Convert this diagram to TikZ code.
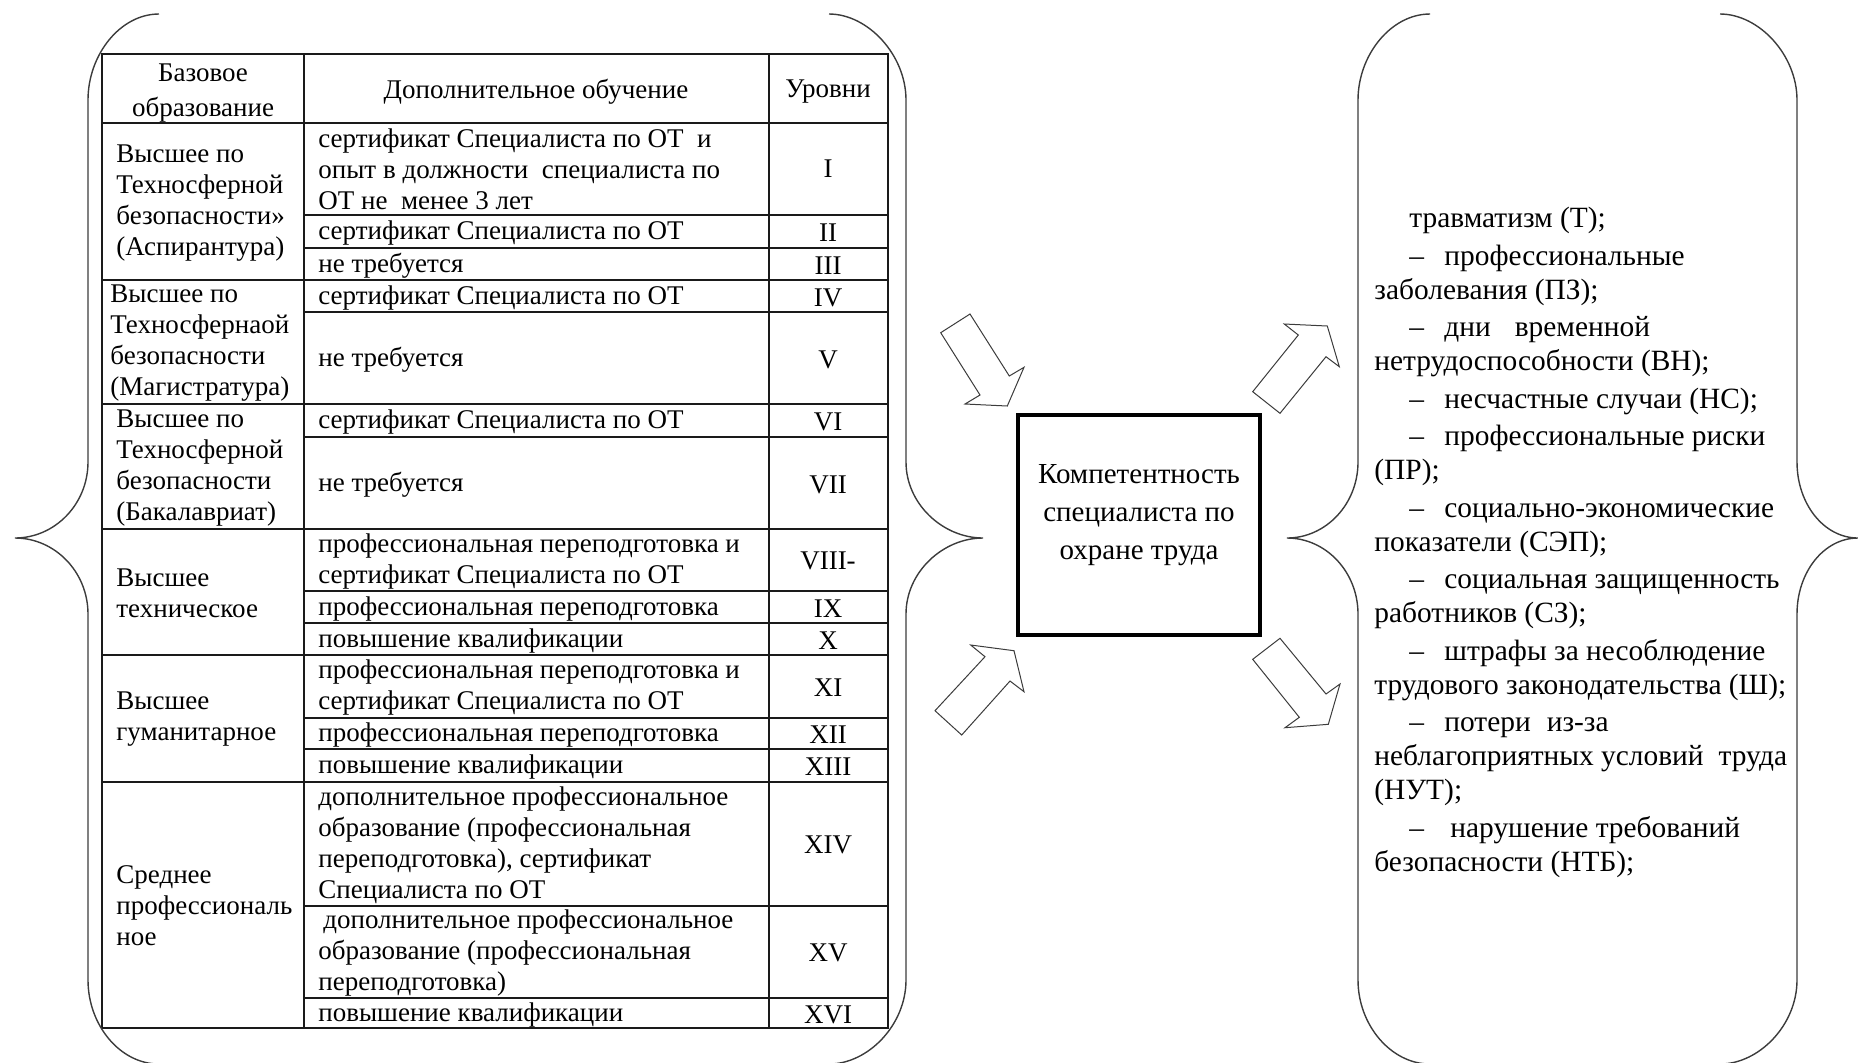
\documentclass[tikz,border=0pt]{standalone}
\usepackage{fontspec}
\setmainfont{Liberation Serif}
\definecolor{ink}{HTML}{000000}
\definecolor{rule}{HTML}{1A1A1A}
\definecolor{curve}{HTML}{3C3C3C}
\definecolor{paper}{HTML}{FFFFFF}
\newcommand{\itemdash}{\hspace*{17.5pt}\makebox[17.5pt][l]{–}}
\tikzset{
  tabletext/.style={
    font=\fontsize{13.5}{15.5}\selectfont,
    text=ink,
    inner sep=0pt,
    align=left,
    anchor=west
  },
  levelcell/.style={
    font=\fontsize{13.5}{15.5}\selectfont,
    text=ink,
    inner sep=0pt,
    align=center
  },
  headcell/.style={levelcell},
  gridline/.style={draw=rule, line width=0.75pt},
  bracket/.style={draw=curve, line width=0.7pt},
  blockarrow/.style={draw=curve, fill=paper, line width=0.5pt, line join=miter},
  corebox/.style={
    draw=ink,
    line width=2pt,
    minimum width=121pt,
    minimum height=110pt,
    inner sep=0pt
  },
  coretext/.style={
    font=\fontsize{14.5}{19}\selectfont,
    text=ink,
    align=center,
    inner sep=0pt
  },
  factlist/.style={
    font=\fontsize{14.7}{17}\selectfont,
    text=ink,
    align=left,
    inner sep=0pt,
    anchor=north west
  }
}

\begin{document}
\begin{tikzpicture}[x=0.5pt,y=-0.5pt]
  \useasboundingbox (0,0) rectangle (1858,1062);

  \draw[gridline] (102,54) rectangle (888,1028);
  \draw[gridline] (304,54) -- (304,1028);
  \draw[gridline] (769,54) -- (769,1028);
  \foreach \yy in {123,280,404,529,655,782}
    \draw[gridline] (102,\yy) -- (888,\yy);
  \foreach \yy in {215,248,312,437,591,623,718,749,906,998}
    \draw[gridline] (304,\yy) -- (888,\yy);

  \node[headcell] (head-base) at (203,93) {Базовое\\[2pt]образование};
  \node[headcell] (head-extra) at (536,92) {Дополнительное обучение};
  \node[headcell] (head-level) at (828,92) {Уровни};

  \node[tabletext] (base-phd) at (116,203) {Высшее по\\Техносферной\\безопасности»\\(Аспирантура)};
  \node[tabletext] (base-msc) at (110,343) {Высшее по\\Техносфернаой\\безопасности\\(Магистратура)};
  \node[tabletext] (base-bsc) at (116,468) {Высшее по\\Техносферной\\безопасности\\(Бакалавриат)};
  \node[tabletext] (base-tech) at (116,593) {Высшее\\техническое};
  \node[tabletext] (base-hum) at (116,719) {Высшее\\гуманитарное};
  \node[tabletext] (base-spo) at (116,906) {Среднее\\профессиональ\\ное};

  \foreach \ymid/\lvl/\txt [count=\i] in {
    169/I/{сертификат Специалиста по ОТ\ \ и\\опыт в должности\ \ специалиста по\\ОТ не\ \ менее 3 лет},
    233/II/{сертификат Специалиста по ОТ},
    265.5/III/{не требуется},
    297.5/IV/{сертификат Специалиста по ОТ},
    359.5/V/{не требуется},
    422/VI/{сертификат Специалиста по ОТ},
    484.5/VII/{не требуется},
    561/VIII-/{профессиональная переподготовка и\\сертификат Специалиста по ОТ},
    608.5/IX/{профессиональная переподготовка},
    640.5/X/{повышение квалификации},
    687.5/XI/{профессиональная переподготовка и\\сертификат Специалиста по ОТ},
    735/XII/{профессиональная переподготовка},
    767/XIII/{повышение квалификации},
    845/XIV/{дополнительное профессиональное\\образование (профессиональная\\переподготовка), сертификат\\Специалиста по ОТ},
    953/XV/{\hspace*{2.5pt}дополнительное профессиональное\\образование (профессиональная\\переподготовка)},
    1014.5/XVI/{повышение квалификации}}
  {
    \node[tabletext] (extra\i) at (318,\ymid) {\txt};
    \node[levelcell] (level\i) at (828,\ymid) {\lvl};
  }

  \draw[bracket] (159,14) .. controls (120,14) and (88,55) .. (88,100) -- (88,462)
    .. controls (88,504) and (55,538) .. (15,538)
    .. controls (55,538) and (88,572) .. (88,614) -- (88,980)
    .. controls (88,1025) and (120,1064) .. (159,1064);
  \draw[bracket] (829,14) .. controls (868,14) and (906,55) .. (906,100) -- (906,462)
    .. controls (906,504) and (943,538) .. (983,538)
    .. controls (943,538) and (906,572) .. (906,614) -- (906,980)
    .. controls (906,1025) and (868,1064) .. (829,1064);
  \draw[bracket] (1430,14) .. controls (1391,14) and (1358,55) .. (1358,100) -- (1358,462)
    .. controls (1358,504) and (1326,538) .. (1287,538)
    .. controls (1326,538) and (1358,572) .. (1358,614) -- (1358,980)
    .. controls (1358,1025) and (1391,1064) .. (1430,1064);
  \draw[bracket] (1720,14) .. controls (1759,14) and (1797,55) .. (1797,100) -- (1797,462)
    .. controls (1797,504) and (1824,538) .. (1858,538)
    .. controls (1824,538) and (1797,572) .. (1797,614) -- (1797,980)
    .. controls (1797,1025) and (1759,1064) .. (1720,1064);

  \draw[blockarrow] (940.7,332.7) -- (970,314) -- (1009.3,376) -- (1024,367.3)
    -- (1007.3,406) -- (965,404) -- (980,395) -- cycle;
  \draw[blockarrow] (935,710.7) -- (985,656.7) -- (970.7,645) -- (1014,650.7)
    -- (1024,691.7) -- (1010,681) -- (961.7,735) -- cycle;
  \draw[blockarrow] (1252.7,391.7) -- (1298.3,335) -- (1284.3,324) -- (1327.3,326)
    -- (1339.3,366.7) -- (1326,356.7) -- (1280,413.3) -- cycle;
  \draw[blockarrow] (1280,638.3) -- (1326,694) -- (1340,684) -- (1328.3,724.3)
    -- (1285,727.7) -- (1299.3,717.3) -- (1252.7,659.3) -- cycle;

  \node[corebox] (core) at (1139,525) {};
  \node[coretext] (core-label) at ([yshift=5pt]core.center) {Компетентность\\специалиста по\\охране труда};

  \node[factlist] (facts) at (1374,207) {%
    \hspace*{17.5pt}травматизм (Т);\\[1.75pt]
    \itemdash профессиональные\\
    заболевания (ПЗ);\\[1.75pt]
    \itemdash дни\hspace{12pt}временной\\
    нетрудоспособности (ВН);\\[1.75pt]
    \itemdash несчастные случаи (НС);\\[1.75pt]
    \itemdash профессиональные риски\\
    (ПР);\\[1.75pt]
    \itemdash социально-экономические\\
    показатели (СЭП);\\[1.75pt]
    \itemdash социальная защищенность\\
    работников (СЗ);\\[1.75pt]
    \itemdash штрафы за\ несоблюдение\\
    трудового законодательства (Ш);\\[1.75pt]
    \itemdash потери\hspace{8pt}из-за\\
    неблагоприятных условий\hspace{7.5pt}труда\\
    (НУТ);\\[1.75pt]
    \itemdash\hspace*{3pt}нарушение требований\\
    безопасности (НТБ);};
\end{tikzpicture}
\end{document}
